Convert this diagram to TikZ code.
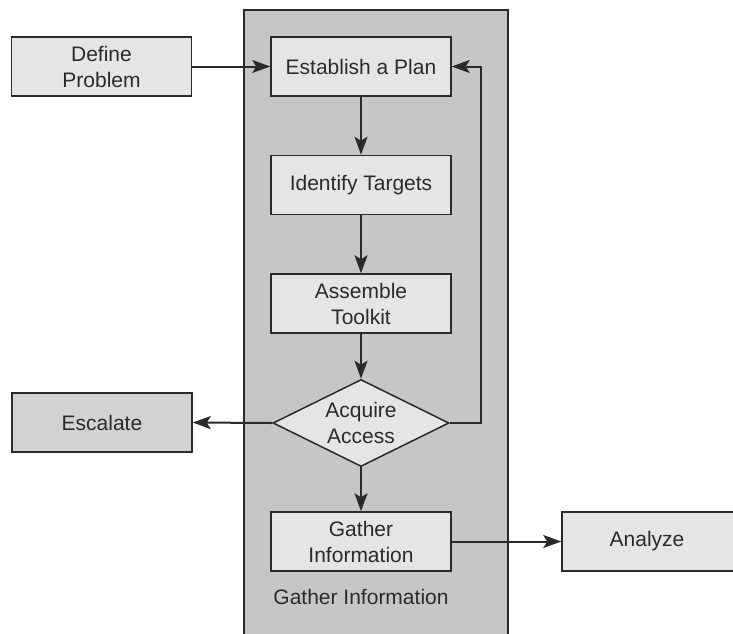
\documentclass[tikz,border=0pt]{standalone}
\usepackage{fontspec}
\setmainfont{Liberation Sans}
\usetikzlibrary{shapes.geometric,arrows.meta}
\definecolor{boxfill}{HTML}{E5E5E5}
\definecolor{escfill}{HTML}{D2D2D2}
\definecolor{bandfill}{HTML}{C6C6C6}
\definecolor{ink}{HTML}{2A2A2A}
\begin{document}
\begin{tikzpicture}[x=1pt,y=-1pt,
  stepbox/.style={draw=ink, line width=1.5pt, fill=boxfill, minimum width=180pt, minimum height=59pt,
    inner sep=0pt, align=center, text=ink, font=\fontsize{21}{26}\selectfont},
  decide/.style={draw=ink, line width=1.5pt, fill=boxfill, shape=diamond, aspect=2,
    minimum width=176pt, minimum height=87pt, inner sep=0pt, align=center, text=ink,
    font=\fontsize{21}{26}\selectfont},
  conn/.style={draw=ink, line width=2pt, -{Stealth[length=18pt,width=13pt,inset=4pt]}},
  plain/.style={draw=ink, line width=2pt}]
\useasboundingbox (0,0) rectangle (733,633);
\fill[white] (0,0) rectangle (733,633);
\draw[draw=ink, line width=1.5pt, fill=bandfill] (244,10) rectangle (508,650);
\node[stepbox] (def) at (101.5,66.5) {Define\\Problem};
\node[stepbox] (est) at (361,66.5) {Establish a Plan};
\node[stepbox] (ide) at (361,185) {Identify Targets};
\node[stepbox] (ass) at (361,303.5) {Assemble\\Toolkit};
\node[decide] (acq) at (361,423) {Acquire\\Access};
\node[stepbox, fill=escfill] (esc) at (102,422.5) {Escalate};
\node[stepbox] (gat) at (361,541.5) {Gather\\Information};
\node[stepbox, minimum width=178pt] (ana) at (651,541.5) {\hspace*{-8pt}Analyze};
\node[text=ink, font=\fontsize{21}{26}\selectfont, inner sep=0pt] (lab) at (361,597) {Gather Information};
\coordinate (fb) at (481,423);
\draw[conn] (def) -- (est);
\draw[conn] (est) -- (ide);
\draw[conn] (ide) -- (ass);
\draw[conn] (ass) -- (acq);
\draw[conn] (acq) -- (gat);
\draw[conn] (acq.west) -- (esc.east);
\draw[conn] (gat.east) -- (ana.west);
\draw[conn] (acq.east) -- (fb) |- (est.east);
\end{tikzpicture}
\end{document}
